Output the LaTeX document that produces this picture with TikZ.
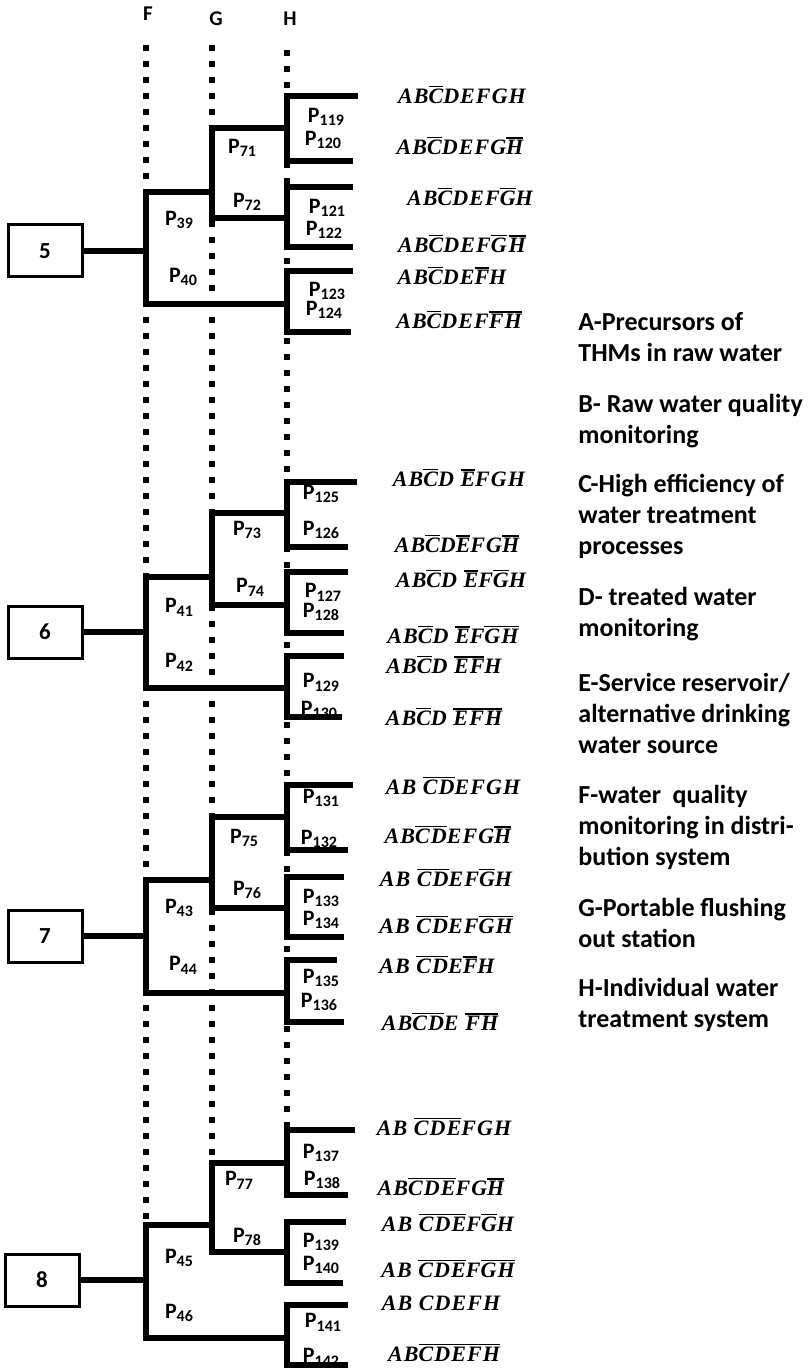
\documentclass[tikz,border=0pt]{standalone}
\usepackage{fontspec}
\setsansfont{Carlito}
\newfontfamily\combofont{Liberation Serif}[LetterSpace=5]
\usetikzlibrary{positioning}
\tikzset{
  branch/.style={line width=2.6pt, line cap=butt, line join=miter},
  guide/.style={line width=2.8pt, dash pattern=on 2.8pt off 5.2pt},
  numbox/.style={draw, fill=white, line width=1.5pt, minimum width=37pt,
                 minimum height=26pt, inner sep=0pt,
                 font=\sffamily\fontsize{11.5}{13}\selectfont\bfseries},
  plab/.style={font=\sffamily\fontsize{11}{12}\selectfont\bfseries, inner sep=0pt},
  combo/.style={font=\combofont\fontsize{11}{12}\selectfont\bfseries\itshape, inner sep=0pt},
  legend/.style={font=\sffamily\fontsize{13}{15.5}\selectfont\bfseries, align=left,
                 anchor=base west, inner sep=0pt},
  axislab/.style={font=\sffamily\fontsize{10.5}{12}\selectfont\bfseries, inner sep=0pt},
}
\newcommand{\Pn}[1]{P\raisebox{-0.35ex}{\fontsize{8}{8}\selectfont #1}}
\newcommand{\ob}[1]{\vbox{\hrule height 0.7pt\kern 0.9pt\hbox{#1}}}
\def\xF{146}
\def\xG{212}
\def\xH{287}

\begin{document}
\begin{tikzpicture}[x=0.5pt, y=-0.5pt]
  \useasboundingbox (0,0) rectangle (812,1369);

  % --- Column heads and dotted guides ---
  \node[axislab] (colF) at (148,14) {F};
  \node[axislab] (colG) at (216,19) {G};
  \node[axislab] (colH) at (290,19) {H};
  \draw[guide] (\xF,45) -- (\xF,1225);
  \draw[guide] (\xG,45) -- (\xG,1163);
  \draw[guide] (\xH,50) -- (\xH,1130);

  % --- Path labels ---
  \node[plab] (p39) at (179,220) {\Pn{39}};
  \node[plab] (p40) at (183,277) {\Pn{40}};
  \node[plab] (p71) at (242,148) {\Pn{71}};
  \node[plab] (p72) at (247,202) {\Pn{72}};
  \node[plab] (p119) at (326,117) {\Pn{119}};
  \node[plab] (p120) at (323,140) {\Pn{120}};
  \node[plab] (p121) at (327,208) {\Pn{121}};
  \node[plab] (p122) at (324,230) {\Pn{122}};
  \node[plab] (p123) at (327,291) {\Pn{123}};
  \node[plab] (p124) at (324,310) {\Pn{124}};

  \node[plab] (p41) at (179,607) {\Pn{41}};
  \node[plab] (p42) at (179,662) {\Pn{42}};
  \node[plab] (p73) at (247,530) {\Pn{73}};
  \node[plab] (p74) at (250,587) {\Pn{74}};
  \node[plab] (p125) at (321,494) {\Pn{125}};
  \node[plab] (p126) at (321,530) {\Pn{126}};
  \node[plab] (p127) at (323,592) {\Pn{127}};
  \node[plab] (p128) at (321,612) {\Pn{128}};
  \node[plab] (p129) at (321,682) {\Pn{129}};
  \node[plab] (p130) at (319,710) {\Pn{130}};

  \node[plab] (p43) at (179,908) {\Pn{43}};
  \node[plab] (p44) at (183,965) {\Pn{44}};
  \node[plab] (p75) at (244,838) {\Pn{75}};
  \node[plab] (p76) at (247,890) {\Pn{76}};
  \node[plab] (p131) at (321,798) {\Pn{131}};
  \node[plab] (p132) at (319,839) {\Pn{132}};
  \node[plab] (p133) at (321,898) {\Pn{133}};
  \node[plab] (p134) at (321,920) {\Pn{134}};
  \node[plab] (p135) at (321,978) {\Pn{135}};
  \node[plab] (p136) at (319,1002) {\Pn{136}};

  \node[plab] (p45) at (179,1258) {\Pn{45}};
  \node[plab] (p46) at (179,1313) {\Pn{46}};
  \node[plab] (p77) at (239,1180) {\Pn{77}};
  \node[plab] (p78) at (247,1237) {\Pn{78}};
  \node[plab] (p137) at (321,1153) {\Pn{137}};
  \node[plab] (p138) at (322,1180) {\Pn{138}};
  \node[plab] (p139) at (321,1242) {\Pn{139}};
  \node[plab] (p140) at (321,1265) {\Pn{140}};
  \node[plab] (p141) at (323,1322) {\Pn{141}};
  \node[plab] (p142) at (321,1357) {\Pn{142}};

  % --- Group 5 ---
  \node[numbox] (b5) at (45,251) {5};
  \draw[branch] (b5.east) -- (\xF,251);
  \draw[branch] (\xG,192) -- (\xF,192) -- (\xF,304) -- (\xH,304);
  \draw[branch] (\xH,128) -- (\xG,128) -- (\xG,218) -- (\xH,218);
  \draw[branch] (358,96) -- (\xH,96) -- (\xH,161) -- (353,161);
  \draw[branch] (353,187) -- (\xH,187) -- (\xH,247) -- (353,247);
  \draw[branch] (353,271) -- (\xH,271) -- (\xH,332) -- (351,332);

  % --- Group 6 ---
  \node[numbox] (b6) at (45,632) {6};
  \draw[branch] (b6.east) -- (\xF,632);
  \draw[branch] (\xG,577) -- (\xF,577) -- (\xF,688) -- (\xH,688);
  \draw[branch] (\xH,513) -- (\xG,513) -- (\xG,605) -- (\xH,605);
  \draw[branch] (357,482) -- (\xH,482) -- (\xH,547) -- (348,547);
  \draw[branch] (348,572) -- (\xH,572) -- (\xH,633) -- (344,633);
  \draw[branch] (344,656) -- (\xH,656) -- (\xH,717) -- (342,717);

  % --- Group 7 ---
  \node[numbox] (b7) at (45,936) {7};
  \draw[branch] (b7.east) -- (\xF,936);
  \draw[branch] (\xG,880) -- (\xF,880) -- (\xF,993) -- (\xH,993);
  \draw[branch] (\xH,817) -- (\xG,817) -- (\xG,908) -- (\xH,908);
  \draw[branch] (353,785) -- (\xH,785) -- (\xH,850) -- (348,850);
  \draw[branch] (344,877) -- (\xH,877) -- (\xH,937) -- (344,937);
  \draw[branch] (337,960) -- (\xH,960) -- (\xH,1022) -- (344,1022);

  % --- Group 8 ---
  \node[numbox] (b8) at (42,1280) {8};
  \draw[branch] (b8.east) -- (\xF,1280);
  \draw[branch] (\xG,1225) -- (\xF,1225) -- (\xF,1338) -- (\xH,1338);
  \draw[branch] (\xH,1163) -- (\xG,1163) -- (\xG,1252) -- (\xH,1252);
  \draw[branch] (355,1130) -- (\xH,1130) -- (\xH,1195) -- (348,1195);
  \draw[branch] (346,1222) -- (\xH,1222) -- (\xH,1283) -- (343,1283);
  \draw[branch] (348,1305) -- (\xH,1305) -- (\xH,1365) -- (348,1365);

  % --- Combinations ---
  \node[combo] (c119) at (462,95)  {AB\ob{C}DEFGH};
  \node[combo] (c120) at (460,146) {AB\ob{C}DEFG\ob{H}};
  \node[combo] (c121) at (470,197) {AB\ob{C}DEF\ob{G}H};
  \node[combo] (c122) at (462,244) {AB\ob{C}DEF\ob{G}\kern1pt\ob{H}};
  \node[combo] (c123) at (452,276) {AB\ob{C}DE\ob{F}H};
  \node[combo] (c124) at (459,320) {AB\ob{C}DEF\ob{FH}};

  \node[combo] (c125) at (459,478) {AB\ob{C}D \ob{E}FGH};
  \node[combo] (c126) at (457,544) {AB\ob{C}D\ob{E}FG\ob{H}};
  \node[combo] (c127) at (461,579) {AB\ob{C}D \ob{E}F\ob{G}H};
  \node[combo] (c128) at (453,635) {AB\ob{C}D \ob{E}F\ob{GH}};
  \node[combo] (c129) at (444,665) {AB\ob{C}D \ob{EF}H};
  \node[combo] (c130) at (444,717) {AB\ob{C}D \ob{EFH}};

  \node[combo] (c131) at (453,786)  {AB \ob{CD}EFGH};
  \node[combo] (c132) at (448,835)  {AB\ob{CD}EFG\ob{H}};
  \node[combo] (c133) at (446,878)  {AB \ob{CD}EF\ob{G}H};
  \node[combo] (c134) at (446,925)  {AB \ob{CD}EF\ob{GH}};
  \node[combo] (c135) at (437,965)  {AB \ob{CD}E\ob{F}H};
  \node[combo] (c136) at (440,1022) {AB\ob{CD}E \ob{FH}};

  \node[combo] (c137) at (444,1127) {AB \ob{CDE}FGH};
  \node[combo] (c138) at (441,1187) {AB\ob{CDE}FG\ob{H}};
  \node[combo] (c139) at (448,1223) {AB \ob{CDE}F\ob{G}H};
  \node[combo] (c140) at (448,1269) {AB \ob{CDE}F\ob{GH}};
  \node[combo] (c141) at (441,1303) {AB CDEFH};
  \node[combo] (c142) at (444,1353) {AB\ob{CDEFH}};

  % --- Legend ---
  \node[legend] (keyA) at (578,361) {A-Precursors of\\THMs in raw water};
  \node[legend] (keyB) at (578,443) {B- Raw water quality\\monitoring};
  \node[legend] (keyC) at (578,554) {C-High efficiency of\\water treatment\\processes};
  \node[legend] (keyD) at (578,636) {D- treated water\\monitoring};
  \node[legend] (keyE) at (578,753) {E-Service reservoir/\\alternative drinking\\water source};
  \node[legend] (keyF) at (578,865) {F-water\ \ quality\\monitoring in distri-\\bution system};
  \node[legend] (keyG) at (578,947) {G-Portable flushing\\out station};
  \node[legend] (keyH) at (578,1027) {H-Individual water\\treatment system};
\end{tikzpicture}
\end{document}
